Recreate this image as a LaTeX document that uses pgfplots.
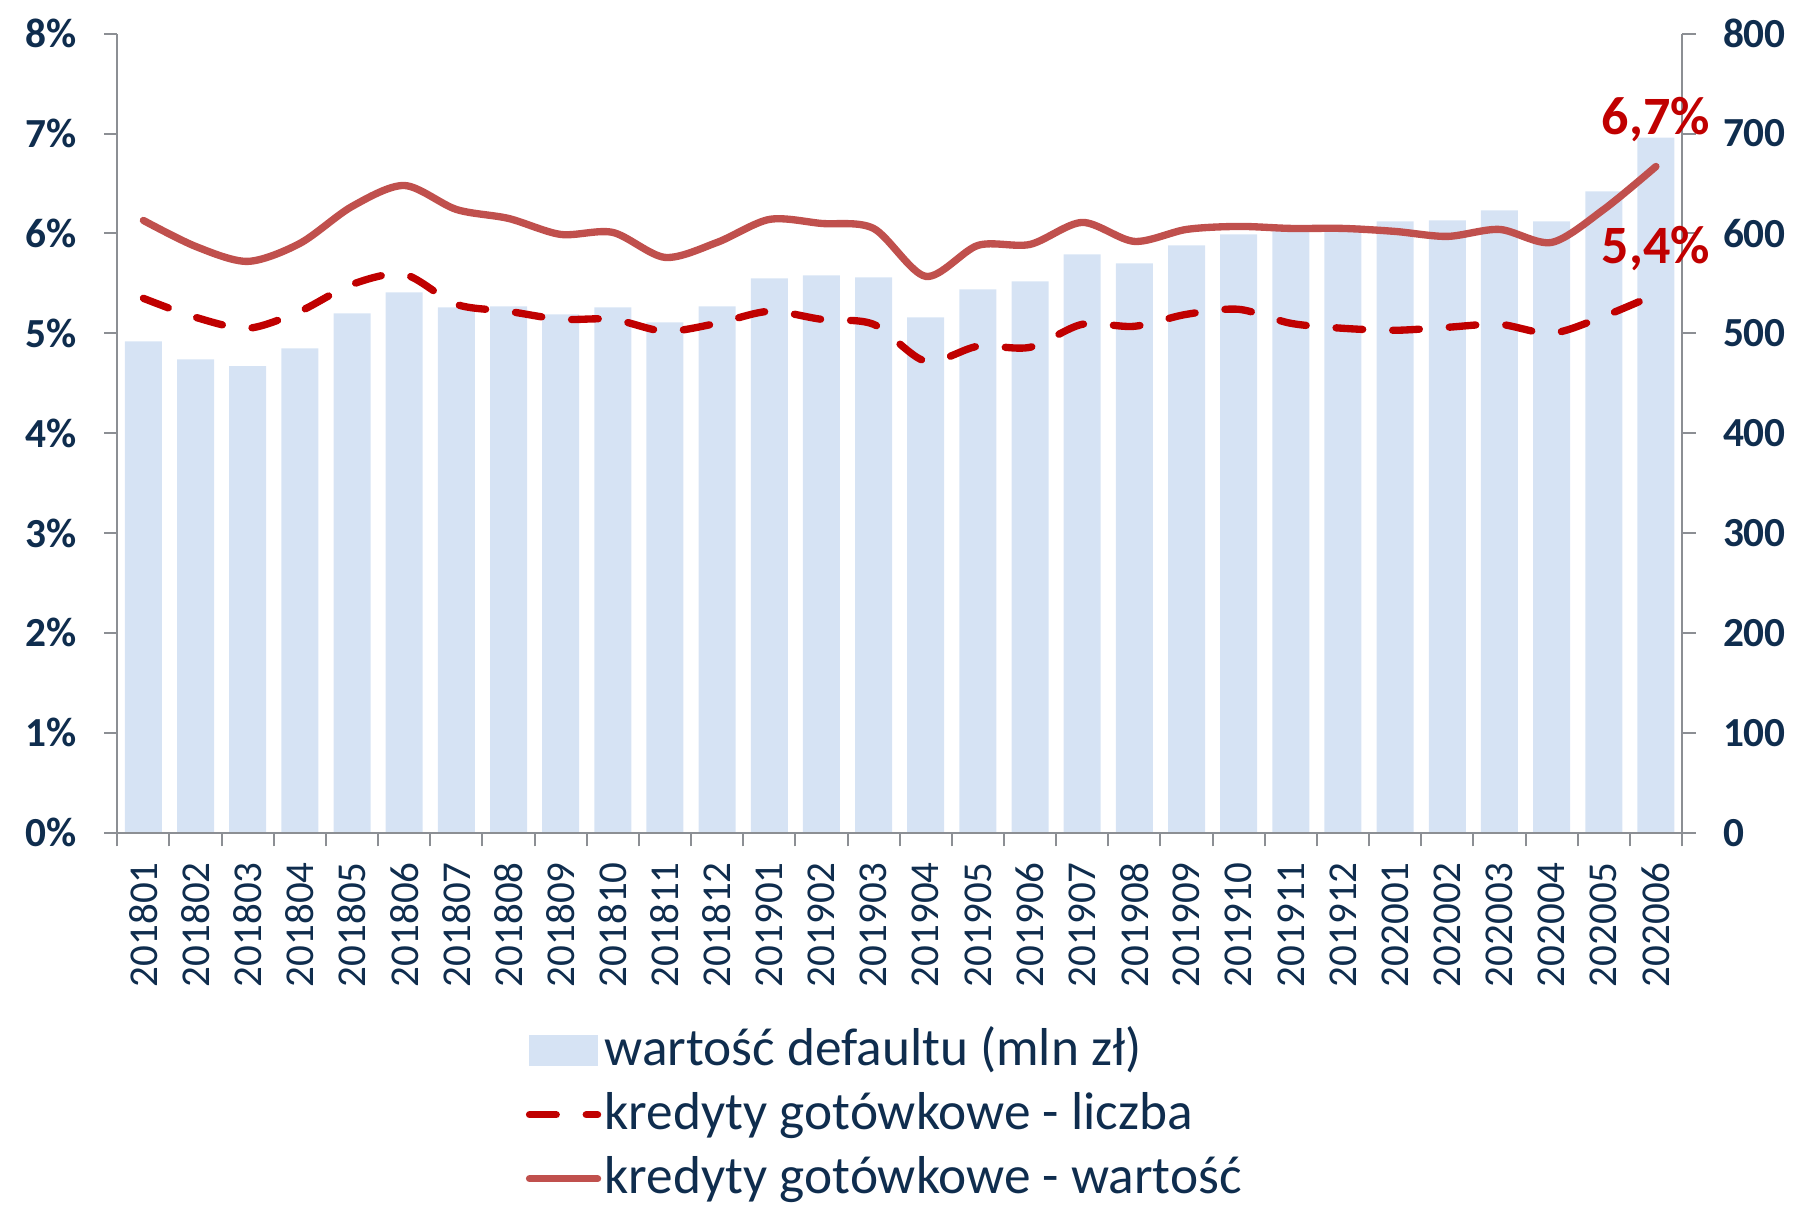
\documentclass[border=0pt]{standalone}
\usepackage{pgfplots}
\pgfplotsset{compat=1.18}
\usepackage{fontspec}
\setmainfont{Carlito}
\definecolor{navy}{HTML}{0F2D4E}
\definecolor{barblue}{HTML}{D6E3F4}
\definecolor{solidred}{HTML}{C0504D}
\definecolor{dashred}{HTML}{C00000}
\definecolor{axisgray}{HTML}{8C8F94}
\pgfplotsset{
  linelegend/.style={legend image code/.code={\draw[##1] (0pt,0pt) -- (20.4pt,0pt);}},
  barlegend/.style={legend image code/.code={\fill[barblue] (0pt,-4.5pt) rectangle (20.4pt,4.5pt);}},
}

\pgfplotstableread{
x val
0 492
1 474
2 467
3 485
4 520
5 541
6 526
7 527
8 519
9 526
10 511
11 527
12 555
13 558
14 556
15 516
16 544
17 552
18 579
19 570
20 588
21 599
22 604
23 608
24 612
25 613
26 623
27 612
28 642
29 696
}\bars

\pgfplotstableread{
x liczba wartosc
0 5.35 6.13
1 5.16 5.87
2 5.05 5.72
3 5.22 5.90
4 5.49 6.27
5 5.59 6.48
6 5.29 6.24
7 5.22 6.15
8 5.14 5.99
9 5.14 6.01
10 5.02 5.76
11 5.10 5.91
12 5.22 6.14
13 5.14 6.10
14 5.09 6.05
15 4.72 5.57
16 4.87 5.88
17 4.86 5.89
18 5.09 6.11
19 5.07 5.92
20 5.19 6.04
21 5.24 6.07
22 5.10 6.05
23 5.05 6.05
24 5.03 6.02
25 5.06 5.97
26 5.09 6.04
27 5.00 5.91
28 5.17 6.24
29 5.39 6.67
}\lines

\begin{document}
\begin{tikzpicture}
% right axis with bars
\begin{axis}[
  name=A,
  scale only axis, width=469.4pt, height=239.7pt,
  xmin=-0.5, xmax=29.5, ymin=0, ymax=800,
  axis y line*=right, axis x line*=bottom,
  xtick={-0.5,0.5,...,29.5}, xticklabel={\mbox{}},
  ytick={0,100,...,800},
  yticklabels={0,100,200,300,400,500,600,700,800},
  tick align=outside, major tick length=4.1pt,
  axis line style={draw=axisgray, line width=0.6pt},
  tick style={draw=axisgray, line width=0.6pt},
  yticklabel style={font=\fontsize{12.4}{14}\selectfont\bfseries, text=navy, inner sep=0pt, xshift=8pt},
]
\addplot[ybar, bar width=11.1pt, fill=barblue, draw=none] table[x=x, y=val] {\bars};
\end{axis}
% left axis with lines
\begin{axis}[
  name=B,
  clip=false,
  scale only axis, width=469.4pt, height=239.7pt,
  xmin=-0.5, xmax=29.5, ymin=0, ymax=8,
  axis y line*=left, axis x line*=bottom,
  xtick={0,...,29},
  xticklabels={201801,201802,201803,201804,201805,201806,201807,201808,201809,201810,201811,201812,201901,201902,201903,201904,201905,201906,201907,201908,201909,201910,201911,201912,202001,202002,202003,202004,202005,202006},
  xtick style={draw=none},
  ytick={0,1,...,8},
  yticklabels={0\%,1\%,2\%,3\%,4\%,5\%,6\%,7\%,8\%},
  tick align=outside, major tick length=3.9pt,
  axis line style={draw=axisgray, line width=0.6pt},
  tick style={draw=axisgray, line width=0.6pt},
  yticklabel style={font=\fontsize{12.4}{14}\selectfont\bfseries, text=navy, inner sep=0pt, xshift=-8pt},
  xticklabel style={font=\fontsize{12.3}{14}\selectfont, text=navy, yshift=-4.8pt, rotate=90, anchor=east, inner sep=0pt},
  legend cell align=left,
  legend style={at={(0.2607,-0.232)}, anchor=north west, draw=none, fill=none, inner sep=0pt,
    row sep=0pt, font=\fontsize{16}{19}\selectfont, text=navy,
    nodes={inner xsep=1pt, inner ysep=0pt, text height=14pt, text depth=5.2pt}},
]
\addlegendimage{barlegend}
\addlegendentry{wartość defaultu (mln zł)}
\addplot[smooth, dashred, line width=2.2pt, line cap=round, dash pattern=on 8pt off 9pt, linelegend]
  table[x=x, y=liczba] {\lines};
\addlegendentry{kredyty gotówkowe - liczba}
\addplot[smooth, solidred, line width=2.2pt, line cap=round, linelegend]
  table[x=x, y=wartosc] {\lines};
\addlegendentry{kredyty gotówkowe - wartość}
\node[anchor=base, inner sep=0pt, yshift=9.5pt, text=dashred, font=\fontsize{16.2}{19}\selectfont\bfseries] at (axis cs:29,6.67) {6,7\%};
\node[anchor=base, inner sep=0pt, yshift=9.3pt, text=dashred, font=\fontsize{16.2}{19}\selectfont\bfseries] at (axis cs:29,5.39) {5,4\%};
\end{axis}
\pgfresetboundingbox
\path[use as bounding box] ([xshift=-35.2pt,yshift=-111.6pt]B.south west) rectangle ([xshift=34.2pt,yshift=10.1pt]B.north east);
\end{tikzpicture}
\end{document}
